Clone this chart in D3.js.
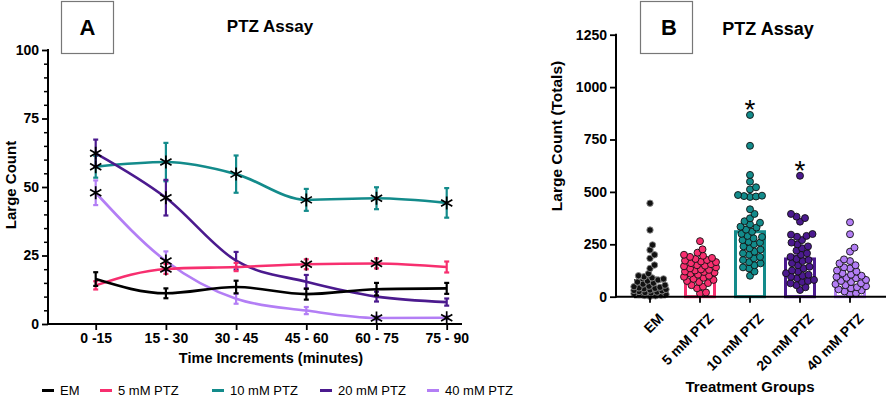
<!DOCTYPE html>
<html><head><meta charset="utf-8">
<script src="https://cdn.jsdelivr.net/npm/d3@7/dist/d3.min.js"></script>
<style>
html,body{margin:0;padding:0;background:#fff;}
svg{display:block;font-family:Arial,"Liberation Sans",Helvetica,sans-serif;}
</style></head>
<body>
<svg id="c" width="886" height="397"></svg>
<script>
// ---------- DATA ----------
const timeCats = ["0 -15","15 - 30","30 - 45","45 - 60","60 - 75","75 - 90"];
const seriesNames = ["EM","5 mM PTZ","10 mM PTZ","20 mM PTZ","40 mM PTZ"];
const seriesColors = ["#000000","#f72f6f","#138b8b","#4b1a8e","#b37ef5"];
const emMean   = [16.4, 11.2, 13.5, 10.9, 12.7, 13.0];
const emErr    = [2.5, 1.8, 2.3, 2.0, 2.3, 2.0];
const ptz5Mean = [14.1, 20.1, 20.8, 21.8, 22.1, 20.8];
const ptz5Err  = [1.5, 1.8, 1.5, 1.8, 1.8, 2.0];
const ptz10Mean= [57.4, 59.1, 54.7, 45.3, 45.9, 44.2];
const ptz10Err = [4.0, 7.0, 6.8, 4.0, 4.0, 5.4];
const ptz20Mean= [62.3, 46.1, 23.1, 15.4, 10.0, 8.0];
const ptz20Err = [5.0, 6.5, 3.2, 2.5, 1.8, 1.3];
const ptz40Mean= [47.9, 23.0, 9.2, 4.9, 2.2, 2.3];
const ptz40Err = [4.5, 3.5, 1.8, 1.3, 0.6, 0.5];
// significance asterisks (1 = marked)
const emSig    = [0,0,0,0,0,0];
const ptz5Sig  = [0,1,0,1,1,0];
const ptz10Sig = [1,1,1,1,1,1];
const ptz20Sig = [1,1,0,0,0,0];
const ptz40Sig = [1,1,0,0,1,1];
const yTicksA = [0,25,50,75,100];

const groupNames = ["EM","5 mM PTZ","10 mM PTZ","20 mM PTZ","40 mM PTZ"];
const groupMeans = [76, 100, 310, 180, 95];
const groupSem   = [16, 8, 26, 18, 12];
const emPts   = [446,318,247,223,200,183,151,135,110,100,95,90,85,80,75,70,65,60,55,50,48,45,42,40,38,35,32,30,28,25,22,20,18,15,12,10,8,6,4,2];
const ptz5Pts = [265,226,210,200,195,190,185,180,175,172,168,165,160,155,150,148,145,140,135,130,128,125,120,118,115,110,105,100,95,90,85,80,75,70,65,55,48,40,20,15];
const ptz10Pts= [867,720,581,549,522,512,485,482,480,478,476,417,395,374,360,353,345,334,330,320,310,300,290,285,279,270,262,258,250,240,231,225,215,207,200,190,183,175,165,159,150,140,135,120,100];
const ptz20Pts= [577,395,382,375,358,299,296,290,286,270,258,250,240,231,220,207,200,190,180,175,170,160,150,143,135,125,120,112,105,100,95,88,80,75,70,64,55,45,32];
const ptz40Pts= [355,298,234,215,178,170,159,150,140,135,125,120,112,105,100,95,90,88,80,75,70,64,60,55,50,45,40,35,30,25,16,12];
const groupSig = [0,0,1,1,0];
const yTicksB = [0,250,500,750,1000,1250];

// ---------- DRAW ----------
const svg = d3.select("#c");
const BOLD = "bold";
const FF = "Arial,'Liberation Sans',sans-serif";

// ===== Panel A =====
const A = {left:48, right:462, top:50, bottom:324};
const xA = d3.scalePoint().domain(timeCats).range([95.7, 446.7]);
const yA = d3.scaleLinear().domain([0,100]).range([A.bottom, A.top]);
const gA = svg.append("g");

gA.append("rect").attr("x",61.5).attr("y",1.5).attr("width",52).attr("height",52)
  .attr("fill","#fff").attr("stroke","#777").attr("stroke-width",1.2);
gA.append("text").attr("x",87.5).attr("y",35).attr("text-anchor","middle")
  .attr("font-size",22).attr("font-weight",BOLD).text("A");
gA.append("text").attr("x",270).attr("y",32).attr("text-anchor","middle")
  .attr("font-size",17).attr("font-weight",BOLD).text("PTZ Assay");

const yAxA = d3.axisLeft(yA).tickValues(yTicksA).tickSize(6).tickPadding(3);
const gyA = gA.append("g").attr("transform",`translate(${A.left},0)`).call(yAxA);
gyA.select(".domain").remove();
gyA.selectAll("line").attr("stroke","#000").attr("stroke-width",1.8);
gyA.selectAll("text").attr("font-size",14).attr("font-weight",BOLD).attr("fill","#000").attr("font-family",FF);
const minorA = d3.range(0,101,5).filter(v=>v%25!==0);
const gmA = gA.append("g").attr("transform",`translate(${A.left},0)`)
  .call(d3.axisLeft(yA).tickValues(minorA).tickSize(4).tickFormat(""));
gmA.select(".domain").remove();
gmA.selectAll("line").attr("stroke","#000").attr("stroke-width",1.5);
gA.append("line").attr("x1",A.left).attr("x2",A.left).attr("y1",A.top-1).attr("y2",A.bottom+1)
  .attr("stroke","#000").attr("stroke-width",2);

const xAxA = d3.axisBottom(xA).tickSize(6).tickPadding(3);
const gxA = gA.append("g").attr("transform",`translate(0,${A.bottom})`).call(xAxA);
gxA.select(".domain").remove();
gxA.selectAll("line").attr("stroke","#000").attr("stroke-width",1.8);
gxA.selectAll("text").attr("font-size",14).attr("font-weight",BOLD).attr("fill","#000").attr("font-family",FF);
gA.append("line").attr("x1",A.left-1).attr("x2",A.right).attr("y1",A.bottom).attr("y2",A.bottom)
  .attr("stroke","#000").attr("stroke-width",2);

gA.append("text").attr("x",271).attr("y",363).attr("text-anchor","middle")
  .attr("font-size",14.5).attr("font-weight",BOLD).text("Time Increments (minutes)");
gA.append("text").attr("transform",`translate(16,185) rotate(-90)`)
  .attr("text-anchor","middle").attr("font-size",15).attr("font-weight",BOLD).text("Large Count");

const seriesData = [
  {m:emMean,e:emErr,s:emSig},
  {m:ptz5Mean,e:ptz5Err,s:ptz5Sig},
  {m:ptz10Mean,e:ptz10Err,s:ptz10Sig},
  {m:ptz20Mean,e:ptz20Err,s:ptz20Sig},
  {m:ptz40Mean,e:ptz40Err,s:ptz40Sig}
];
const lineGen = d3.line().x((d,i)=>xA(timeCats[i])).y(d=>yA(d)).curve(d3.curveMonotoneX);
const order = [2,4,3,1,0];
order.forEach(k=>{
  const sd = seriesData[k], col = seriesColors[k];
  const g = gA.append("g");
  sd.m.forEach((v,i)=>{
    const x = xA(timeCats[i]);
    const y1 = yA(v+sd.e[i]), y2 = yA(Math.max(0,v-sd.e[i]));
    g.append("line").attr("x1",x).attr("x2",x).attr("y1",y1).attr("y2",y2)
      .attr("stroke",col).attr("stroke-width",2.2);
    [y1,y2].forEach(yy=>g.append("line").attr("x1",x-2.5).attr("x2",x+2.5).attr("y1",yy).attr("y2",yy)
      .attr("stroke",col).attr("stroke-width",2.2));
  });
  g.append("path").datum(sd.m).attr("d",lineGen).attr("fill","none")
    .attr("stroke",col).attr("stroke-width",2.6);
});
function starPath(cx,cy,r){
  let p="";
  [90,30,150].forEach(a=>{
    const t=a*Math.PI/180, dx=r*Math.cos(t), dy=r*Math.sin(t);
    p+=`M${cx-dx},${cy-dy}L${cx+dx},${cy+dy}`;
  });
  return p;
}
seriesData.forEach((sd,k)=>{
  sd.m.forEach((v,i)=>{
    if(sd.s[i]) gA.append("path").attr("d",starPath(xA(timeCats[i]),yA(v),6.5))
      .attr("stroke","#000").attr("stroke-width",1.7).attr("fill","none");
  });
});

// legend
const legX = [42,100,212,320,427];
seriesNames.forEach((n,k)=>{
  gA.append("line").attr("x1",legX[k]).attr("x2",legX[k]+12).attr("y1",390.5).attr("y2",390.5)
    .attr("stroke",seriesColors[k]).attr("stroke-width",3);
  gA.append("text").attr("x",legX[k]+18).attr("y",395).attr("font-size",13).text(n);
});

// ===== Panel B =====
const B = {left:616, right:886, top:34.7, bottom:296.7};
const xB = d3.scaleBand().domain(groupNames).range([625,875]).paddingInner(0.36).paddingOuter(0.18);
const yB = d3.scaleLinear().domain([0,1250]).range([B.bottom, B.top]);
const gB = svg.append("g");

gB.append("rect").attr("x",640.5).attr("y",1.5).attr("width",52).attr("height",52)
  .attr("fill","#fff").attr("stroke","#777").attr("stroke-width",1.2);
gB.append("text").attr("x",669).attr("y",35).attr("text-anchor","middle")
  .attr("font-size",22).attr("font-weight",BOLD).text("B");
gB.append("text").attr("x",768).attr("y",35).attr("text-anchor","middle")
  .attr("font-size",18).attr("font-weight",BOLD).text("PTZ Assay");

const gyB = gB.append("g").attr("transform",`translate(${B.left},0)`)
  .call(d3.axisLeft(yB).tickValues(yTicksB).tickFormat(d3.format("d")).tickSize(6).tickPadding(3));
gyB.select(".domain").remove();
gyB.selectAll("line").attr("stroke","#000").attr("stroke-width",1.8);
gyB.selectAll("text").attr("font-size",14).attr("font-weight",BOLD).attr("fill","#000").attr("font-family",FF);
gB.append("line").attr("x1",B.left).attr("x2",B.left).attr("y1",B.top-1).attr("y2",B.bottom+1)
  .attr("stroke","#000").attr("stroke-width",2);

gB.append("text").attr("transform",`translate(562,136) rotate(-90)`)
  .attr("text-anchor","middle").attr("font-size",15.5).attr("font-weight",BOLD).text("Large Count (Totals)");

const ptsAll = [emPts, ptz5Pts, ptz10Pts, ptz20Pts, ptz40Pts];
groupNames.forEach((n,k)=>{
  const x0 = xB(n), bw = xB.bandwidth(), col = seriesColors[k];
  gB.append("rect").attr("x",x0+1.5).attr("y",yB(groupMeans[k]))
    .attr("width",bw-3).attr("height",B.bottom-yB(groupMeans[k]))
    .attr("fill","#fff").attr("stroke",col).attr("stroke-width",3);
  const cx = x0+bw/2;
  const ye = yB(groupMeans[k]+groupSem[k]);
  gB.append("line").attr("x1",cx).attr("x2",cx).attr("y1",ye).attr("y2",yB(groupMeans[k]))
    .attr("stroke",k===0?"#000":col).attr("stroke-width",1.5);
  gB.append("line").attr("x1",cx-7).attr("x2",cx+7).attr("y1",ye).attr("y2",ye)
    .attr("stroke",k===0?"#000":col).attr("stroke-width",1.5);
});
// beeswarm dots (compact, overlapping allowed)
groupNames.forEach((n,k)=>{
  const cx = xB(n)+xB.bandwidth()/2;
  const r = k===0 ? 3.2 : 3.5;
  const minD = 1.7*r;
  const maxOff = 16;
  const placed = [];
  const vals = ptsAll[k].slice().sort((a,b)=>a-b);
  vals.forEach(v=>{
    const y = yB(v);
    let best = null, bestScore = Infinity;
    for(let s=0; s<=maxOff; s+=0.5){
      for(const sign of (s===0?[1]:[1,-1])){
        const x = cx + sign*s;
        if(placed.every(p=>(p.x-x)**2+(p.y-y)**2 >= minD*minD)){ best = sign*s; break; }
      }
      if(best!==null) break;
    }
    if(best===null){
      for(let s=-maxOff; s<=maxOff; s+=1){
        const x = cx+s;
        const score = placed.reduce((a,p)=>a+Math.max(0,minD-Math.hypot(p.x-x,p.y-y)),0);
        if(score<bestScore){bestScore=score; best=s;}
      }
    }
    placed.push({x:cx+best, y:y});
  });
  gB.append("g").selectAll("circle").data(placed).join("circle")
    .attr("cx",d=>d.x).attr("cy",d=>d.y).attr("r",r)
    .attr("fill",k===0?"#111":seriesColors[k])
    .attr("stroke",k===0?"#8a8a8a":"#111").attr("stroke-width",0.9);
  if(groupSig[k]){
    const top = d3.max(ptsAll[k]);
    gB.append("text").attr("x",cx).attr("y",yB(top)+4).attr("text-anchor","middle")
      .attr("font-size",28).attr("fill","#000").text("*");
  }
});

const gxB = gB.append("g").attr("transform",`translate(0,${B.bottom})`)
  .call(d3.axisBottom(xB).tickSize(6).tickPadding(4));
gxB.select(".domain").remove();
gxB.selectAll("line").attr("stroke","#000").attr("stroke-width",1.8);
gxB.selectAll("text").attr("font-size",14).attr("font-weight",BOLD).attr("fill","#000")
  .attr("font-family",FF)
  .attr("text-anchor","end").attr("dy","0.35em")
  .attr("transform","translate(4,12) rotate(-45)");
gB.append("line").attr("x1",B.left-1).attr("x2",B.right).attr("y1",B.bottom).attr("y2",B.bottom)
  .attr("stroke","#000").attr("stroke-width",2);

gB.append("text").attr("x",750).attr("y",392).attr("text-anchor","middle")
  .attr("font-size",15).attr("font-weight",BOLD).text("Treatment Groups");
</script>
</body></html>
